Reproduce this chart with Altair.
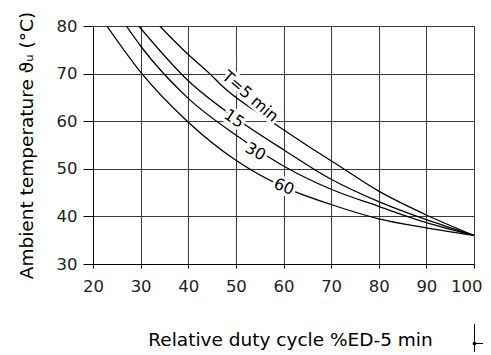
import altair as alt
import pandas as pd

# ---- data ----
curve_names = ["T=5 min", "15", "30", "60"]

x_t5 = [34.0, 40, 44.5, 47, 57.5, 60, 67.6, 70, 80, 90, 100]
y_t5 = [80.0, 74.0, 70.0, 67.5, 59.9, 58.2, 53.2, 51.7, 45.3, 40.3, 36.0]

x_t15 = [29.6, 40, 50, 60, 70, 80, 90, 100]
y_t15 = [80.0, 68.5, 60.6, 54.0, 47.8, 43.1, 39.3, 36.0]

x_t30 = [27.0, 30, 40, 50, 60, 70, 80, 90, 100]
y_t30 = [80.0, 75.8, 64.8, 57.1, 50.6, 45.7, 42.1, 38.7, 36.0]

x_t60 = [22.9, 30, 40, 50, 60, 70, 80, 90, 100]
y_t60 = [80.0, 70.3, 59.8, 51.8, 46.2, 42.5, 39.5, 37.6, 36.0]

label_text = ["T=5 min", "15", "30", "60"]
label_x = [53.0, 49.6, 54.1, 60.1]
label_y = [65.2, 60.5, 53.6, 46.2]
label_angle = [41, 34, 30, 22]

x_ticks = [20, 30, 40, 50, 60, 70, 80, 90, 100]
y_ticks = [30, 40, 50, 60, 70, 80]

# ---- build tables ----
rows = []
for name, xs, ys in zip(curve_names,
                        [x_t5, x_t15, x_t30, x_t60],
                        [y_t5, y_t15, y_t30, y_t60]):
    for i, (xv, yv) in enumerate(zip(xs, ys)):
        rows.append({"curve": name, "x": xv, "y": yv, "order": i})
df = pd.DataFrame(rows)
labels = pd.DataFrame({"text": label_text, "x": label_x, "y": label_y, "angle": label_angle})

TICK_FONT = "DejaVu Sans"
TITLE_FONT = "DejaVu Sans"

xscale = alt.Scale(domain=[20, 100], nice=False, zero=False)
yscale = alt.Scale(domain=[30, 80], nice=False, zero=False)

x_axis = alt.Axis(values=x_ticks, tickSize=4, labelPadding=10, grid=True,
                  labelFlush=False,
                  labelAlign=alt.expr("datum.value == 100 ? 'right' : 'center'"),
                  labelOffset=alt.expr("datum.value == 100 ? 8 : 0"),
                  title="Relative duty cycle %ED-5 min", titlePadding=36,
                  titleX=197, titleAnchor="middle")
y_axis = alt.Axis(values=y_ticks, tickSize=10, labelPadding=6, grid=True,
                  labelFlush=False,
                  title="Ambient temperature ϑᵤ (°C)", titlePadding=20)

lines = alt.Chart(df).mark_line(color="black", strokeWidth=1.3,
                                interpolate="monotone", clip=True).encode(
    x=alt.X("x:Q", scale=xscale, axis=x_axis),
    y=alt.Y("y:Q", scale=yscale, axis=y_axis),
    detail="curve:N",
    order="order:Q",
)

halo = alt.Chart(labels).mark_text(font=TICK_FONT, fontSize=16, stroke="white",
                                   strokeWidth=6, fill="white", baseline="middle",
                                   align="center").encode(
    x=alt.X("x:Q", scale=xscale),
    y=alt.Y("y:Q", scale=yscale),
    text="text:N",
    angle=alt.Angle("angle:Q", scale=None),
)
txt = alt.Chart(labels).mark_text(font=TICK_FONT, fontSize=16, color="black",
                                  baseline="middle", align="center").encode(
    x=alt.X("x:Q", scale=xscale),
    y=alt.Y("y:Q", scale=yscale),
    text="text:N",
    angle=alt.Angle("angle:Q", scale=None),
)

sym = pd.DataFrame({"a": [0]})
vline = alt.Chart(sym).mark_rule(color="black", strokeWidth=1).encode(
    x=alt.value(381.5), y=alt.value(298), y2=alt.value(332))
hline = alt.Chart(sym).mark_rule(color="black", strokeWidth=1).encode(
    x=alt.value(381.5), x2=alt.value(396), y=alt.value(317.5))
dot = alt.Chart(sym).mark_point(filled=True, color="black", size=14, opacity=1).encode(
    x=alt.value(381.5), y=alt.value(317.5))

chart = alt.layer(lines, halo, txt, vline, hline, dot).properties(
    width=381, height=238,
    autosize="none",
    padding={"left": 85, "top": 18, "right": 9, "bottom": 88},
).configure_view(stroke=None).configure_axis(
    domainColor="black", domainWidth=1,
    gridColor="#3a3a3a", gridWidth=1,
    tickColor="black", tickWidth=1,
    labelFont=TICK_FONT, labelFontSize=16.5, labelColor="#222",
    titleFont=TITLE_FONT, titleFontSize=18.5, titleFontWeight="normal", titleColor="black",
)

chart.save("out.html", embed_options={"renderer": "svg", "actions": False})
